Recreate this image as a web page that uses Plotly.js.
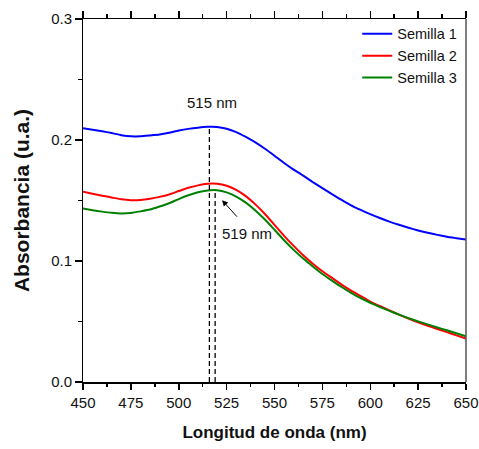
<!DOCTYPE html>
<html>
<head>
<meta charset="utf-8">
<script src="https://cdn.plot.ly/plotly-3.0.1.min.js"></script>
<style>html,body{margin:0;padding:0;background:#fff;}#chart{width:479px;height:449px;}</style>
</head>
<body>
<div id="chart"></div>
<script>
const wavelength = [450,455,460,465,470,475,480,485,490,495,500,505,510,515,520,525,530,535,540,545,550,555,560,565,570,575,580,585,590,595,600,605,610,615,620,625,630,635,640,645,650];
const semilla1 = [0.2097,0.2085,0.2073,0.2057,0.2040,0.2030,0.2030,0.2037,0.2045,0.2060,0.2078,0.2092,0.2102,0.2109,0.2108,0.2093,0.2065,0.2025,0.1980,0.1928,0.1870,0.1810,0.1755,0.1705,0.1652,0.1602,0.1552,0.1505,0.1460,0.1422,0.1387,0.1355,0.1325,0.1299,0.1275,0.1252,0.1233,0.1216,0.1200,0.1188,0.1177];
const semilla2 = [0.1572,0.1556,0.1540,0.1525,0.1510,0.1503,0.1505,0.1515,0.1530,0.1550,0.1578,0.1605,0.1625,0.1638,0.1638,0.1622,0.1588,0.1536,0.1468,0.1388,0.1298,0.1208,0.1125,0.1047,0.0978,0.0915,0.0860,0.0805,0.0755,0.0710,0.0665,0.0628,0.0592,0.0557,0.0524,0.0493,0.0465,0.0438,0.0412,0.0385,0.0359];
const semilla3 = [0.1434,0.1420,0.1408,0.1398,0.1393,0.1397,0.1410,0.1425,0.1450,0.1477,0.1512,0.1543,0.1568,0.1583,0.1585,0.1567,0.1532,0.1482,0.1418,0.1343,0.1258,0.1172,0.1092,0.1020,0.0955,0.0893,0.0838,0.0785,0.0737,0.0693,0.0655,0.0620,0.0588,0.0557,0.0528,0.0501,0.0476,0.0451,0.0427,0.0403,0.0378];
const seriesNames = ['Semilla 1','Semilla 2','Semilla 3'];
const seriesColors = ['#0000ff','#ff0000','#008000'];
const peakWavelengths = [516, 519];
const peakHeights = [0.2109, 0.1586];
const peakLabels = ['515 nm', '519 nm'];
const xTickVals = [450,475,500,525,550,575,600,625,650];
const yTickVals = [0.0,0.1,0.2,0.3];

const FONT = 'Liberation Sans, Arial, sans-serif';
const allSeries = [semilla1, semilla2, semilla3];
const traces = allSeries.map((s, i) => ({
  x: wavelength, y: s, type: 'scatter', mode: 'lines', name: seriesNames[i],
  line: {color: seriesColors[i], width: 2, shape: 'spline', smoothing: 0.4}
}));

const shapes = peakWavelengths.map((w, i) => ({
  type: 'line', xref: 'x', yref: 'y', x0: w, x1: w, y0: 0, y1: peakHeights[i],
  line: {color: '#000', width: 1.3, dash: '5px,3px'}
}));
shapes.push({type: 'line', xref: 'paper', yref: 'paper', x0: 1, x1: 1, y0: 0, y1: 1, line: {color: '#555', width: 1.5}});

const annotations = [
  {x: 517.5, y: 0.2308, xref: 'x', yref: 'y', text: peakLabels[0], showarrow: false, font: {family: FONT, size: 15, color: '#111'}},
  {x: 535.6, y: 0.123, xref: 'x', yref: 'y', text: peakLabels[1], showarrow: false, font: {family: FONT, size: 15, color: '#111'}},
  {x: 522.6, y: 0.1503, ax: 531.1, ay: 0.1354, xref: 'x', yref: 'y', axref: 'x', ayref: 'y', text: '', showarrow: true, arrowhead: 2, arrowsize: 1.2, arrowwidth: 1, arrowcolor: '#000'}
];

const layout = {
  width: 479, height: 449,
  margin: {l: 82.5, r: 13, t: 19, b: 67.3, pad: 0, autoexpand: false},
  paper_bgcolor: '#fff', plot_bgcolor: '#fff',
  font: {family: FONT, color: '#111'},
  showlegend: true,
  legend: {x: 0.716, y: 1.003, xanchor: 'left', yanchor: 'top', bgcolor: 'rgba(0,0,0,0)', borderwidth: 0,
           font: {family: FONT, size: 14.5, color: '#111'}, traceorder: 'normal'},
  xaxis: {
    range: [450, 650], tickmode: 'array', tickvals: xTickVals, ticks: 'outside', ticklen: 6.5, tickwidth: 1.5, tickcolor: '#000',
    showline: true, linecolor: '#000', linewidth: 1.5, mirror: 'ticks', showgrid: false, zeroline: false,
    minor: {dtick: 12.5, tick0: 450, ticks: 'outside', ticklen: 3.5, tickwidth: 1.5, tickcolor: '#000', showgrid: false},
    tickfont: {family: FONT, size: 15, color: '#111'},
    title: {text: '<b>Longitud de onda (nm)</b>', font: {family: FONT, size: 17, color: '#111'}, standoff: 16}
  },
  yaxis: {
    range: [0, 0.3], tickmode: 'array', tickvals: yTickVals, tickformat: '.1f', ticks: 'outside', ticklen: 6.5, tickwidth: 1.5, tickcolor: '#000',
    showline: true, linecolor: '#000', linewidth: 1.5, showgrid: false, zeroline: false,
    minor: {dtick: 0.05, tick0: 0, ticks: 'outside', ticklen: 3.5, tickwidth: 1.5, tickcolor: '#000', showgrid: false},
    tickfont: {family: FONT, size: 15, color: '#111'},
    title: {text: '<b>Absorbancia (u.a.)</b>', font: {family: FONT, size: 21, color: '#111'}, standoff: 16}
  },
  shapes: shapes,
  annotations: annotations
};

Plotly.newPlot('chart', traces, layout, {staticPlot: true, displayModeBar: false});
</script>
</body>
</html>
